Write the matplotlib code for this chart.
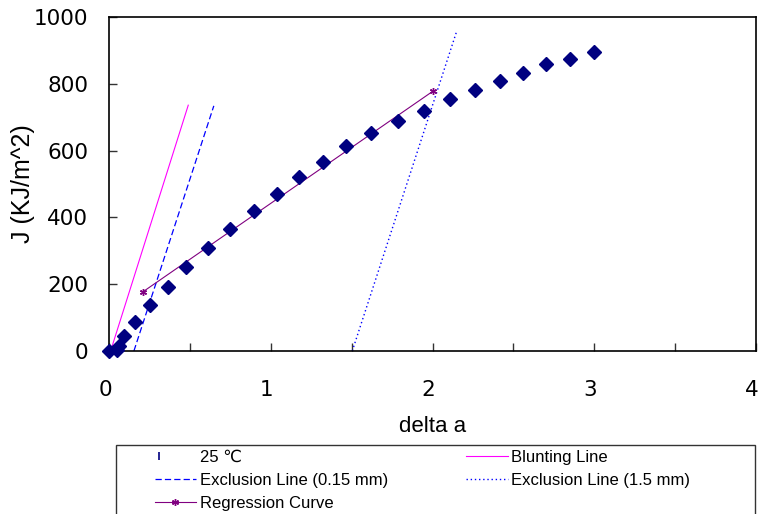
import matplotlib
matplotlib.use('Agg')
import matplotlib.pyplot as plt
from matplotlib.lines import Line2D
from matplotlib.patches import Rectangle
from matplotlib.transforms import ScaledTranslation
from matplotlib.legend_handler import HandlerBase

plt.rcParams['font.family'] = ['Liberation Sans', 'DejaVu Sans']

# ---- data ----
delta_a = [0.0, 0.047, 0.061, 0.095, 0.158, 0.253, 0.364, 0.475, 0.609, 0.747,
           0.899, 1.036, 1.175, 1.320, 1.467, 1.617, 1.786, 1.946, 2.108, 2.261,
           2.415, 2.559, 2.699, 2.847, 3.000]
J_25C = [0, 3, 15, 45, 88, 138, 192, 252, 307, 365,
         420, 469, 520, 567, 614, 654, 690, 720, 753, 782,
         809, 833, 858, 875, 895]

blunt_x = [0.01, 0.49]
blunt_y = [0, 736]
excl015_x = [0.154, 0.648]
excl015_y = [0, 734]
excl15_x = [1.504, 2.150]
excl15_y = [0, 958]
regr_x = [0.212, 2.000]
regr_y = [178, 777]

x_ticks = [0, 0.5, 1, 1.5, 2, 2.5, 3, 3.5, 4]
x_ticklabels = ['0', '', '1', '', '2', '', '3', '', '4']
y_ticks = [0, 200, 400, 600, 800, 1000]
y_ticklabels = ['0', '200', '400', '600', '800', '1000']

labels = ['25 \u2103', 'Blunting Line', 'Exclusion Line (0.15 mm)',
          'Exclusion Line (1.5 mm)', 'Regression Curve']

# ---- figure ----
W, H = 758, 514
fig = plt.figure(figsize=(W / 100, H / 100), dpi=100)
ax = fig.add_axes([109 / W, 1 - 351 / H, (756 - 109) / W, (351 - 17) / H])

navy = '#000080'
magenta = '#FF00FF'
blue = '#0000FF'
purple = '#800080'
asterisk = (6, 2, 0)

ax.plot(delta_a, J_25C, linestyle='None', marker='D', markersize=7.5,
        color=navy, clip_on=False, zorder=5)
ax.plot(blunt_x, blunt_y, color=magenta, lw=0.8)
ax.plot(excl015_x, excl015_y, color=blue, lw=0.9, dashes=(5, 2.5))
ax.plot(excl15_x, excl15_y, color=blue, lw=1.0, dashes=(1, 2))
ax.plot(regr_x, regr_y, color=purple, lw=0.8, marker=asterisk, markersize=5)

ax.set_xlim(0, 4)
ax.set_ylim(0, 1000)
ax.set_xticks(x_ticks)
ax.set_xticklabels(x_ticklabels, fontfamily='DejaVu Sans', fontsize=15.5)
ax.set_yticks(y_ticks)
ax.set_yticklabels(y_ticklabels, fontfamily='DejaVu Sans', fontsize=15.5)

ax.tick_params(axis='both', direction='in', length=6, width=1, color='#333333')
ax.tick_params(axis='x', pad=21)
ax.tick_params(axis='y', pad=15)
for lab in ax.get_xticklabels():
    lab.set_transform(lab.get_transform() +
                      ScaledTranslation(-4 / 100, 0, fig.dpi_scale_trans))

for s in ax.spines.values():
    s.set_linewidth(1.2)
    s.set_color('black')

ax.set_xlabel('delta a', fontsize=16, va='center')
ax.xaxis.set_label_coords(0.5, (351 - 426) / 334)
ax.set_ylabel('J (KJ/m^2)', fontsize=18, va='center')
ax.yaxis.set_label_coords((23 - 109) / 647, 0.5)

# ---- legend ----
fig.patches.append(Rectangle((116 / W, 1 - 540 / H), (755 - 116) / W, (540 - 445) / H,
                             transform=fig.transFigure, fill=False,
                             edgecolor='#333333', lw=1.0))


class HandlerBar(HandlerBase):
    def create_artists(self, legend, orig_handle, xdescent, ydescent,
                       width, height, fontsize, trans):
        ln = Line2D([-xdescent + 0.11 * width], [height / 2 - ydescent],
                    linestyle='None', marker='|', markersize=6,
                    markeredgewidth=1.2, color=orig_handle.get_color())
        ln.set_transform(trans)
        return [ln]


h_pts = Line2D([], [], linestyle='None', marker='|', color=navy)
h_blunt = Line2D([], [], color=magenta, lw=0.8)
h_e015 = Line2D([], [], color=blue, lw=0.9, dashes=(5, 2.5))
h_e15 = Line2D([], [], color=blue, lw=1.0, dashes=(1, 2))
h_regr = Line2D([], [], color=purple, lw=0.8, marker=asterisk, markersize=5)

fig.legend([h_pts, h_e015, h_regr, h_blunt, h_e15],
           [labels[0], labels[2], labels[4], labels[1], labels[3]],
           ncol=2, loc='upper left', bbox_to_anchor=(154.5 / W, 1 - 450 / H),
           frameon=False, borderpad=0, borderaxespad=0, fontsize=12,
           handlelength=2.5, handletextpad=0.2, labelspacing=0.48,
           columnspacing=4.7, numpoints=1,
           handler_map={h_pts: HandlerBar()})

fig.savefig('out.png', dpi=100)
